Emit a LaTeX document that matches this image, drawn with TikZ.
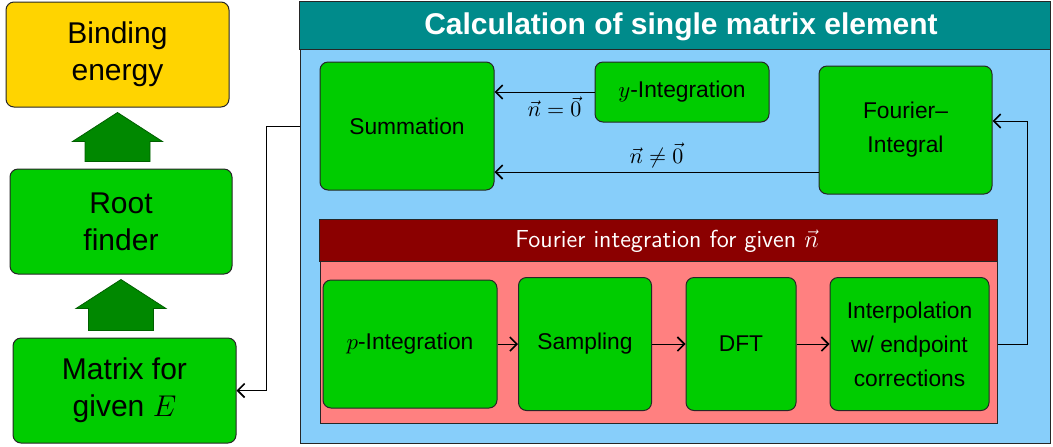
\RequirePackage{fix-cm}
\documentclass[tikz,border=0pt]{standalone}
\usepackage[no-math]{fontspec}
\setmainfont{Liberation Sans}
\usetikzlibrary{calc,arrows.meta}

\definecolor{boxgreen}{RGB}{0,204,0}
\definecolor{arrowgreen}{RGB}{0,136,0}
\definecolor{gold}{RGB}{255,212,0}
\definecolor{headteal}{RGB}{0,139,139}
\definecolor{skyblue}{RGB}{135,206,250}
\definecolor{headred}{RGB}{139,0,0}
\definecolor{salmonred}{RGB}{255,128,128}

% thick block arrow from the lower box #2 up to the box #1
\newcommand{\fatarrow}[2]{%
  \filldraw[fill=arrowgreen,draw=arrowgreen!70!black,line width=0.4pt]
    let \p1=(#1.south), \p2=(#2.north) in
    ({\x1},{\y1-2.5pt}) -- ({\x1+22.5pt},{\y1-17pt}) -- ({\x1+16.25pt},{\y1-17pt})
    -- ({\x1+16.25pt},{\y2+3.5pt}) -- ({\x1-16.25pt},{\y2+3.5pt})
    -- ({\x1-16.25pt},{\y1-17pt}) -- ({\x1-22.5pt},{\y1-17pt}) -- cycle;}

\begin{document}
\begin{tikzpicture}[x=0.5pt,y=-0.5pt,
  proc/.style={draw=black!85,line width=0.5pt,fill=boxgreen,rounded corners=4pt,
    align=center,inner sep=0pt,font=\fontsize{11.4}{17}\selectfont},
  bigproc/.style={proc,font=\fontsize{15}{18.5}\selectfont},
  frame/.style={draw=black!85,line width=0.5pt,inner sep=0pt},
  flow/.style={-{Straight Barb[length=3.5pt,width=7pt,line width=0.8pt]},line width=0.5pt},
  cond/.style={font=\fontsize{11}{13}\selectfont,inner sep=2pt}]

\useasboundingbox (0,0) rectangle (1053,446);

%left column
\node[bigproc,fill=gold,minimum width=111.5pt,minimum height=52.5pt] (bind) at (117.5,54.5) {Binding\\energy};
\node[bigproc,minimum width=111pt,minimum height=52.5pt] (root) at (121,221.5) {Root\\finder};
\node[bigproc,minimum width=111.5pt,minimum height=52.5pt] (matE) at (124.5,390.5) {Matrix for\\given $E$};
\fatarrow{bind}{root}
\fatarrow{root}{matE}

%single matrix element
\node[frame,fill=skyblue,minimum width=375pt,minimum height=220.5pt] (calcbox) at (675,222.5) {};
\draw[frame,fill=headteal] (calcbox.north west) rectangle ($(calcbox.north east)+(0,48)$);
\node[text=white,font=\fontsize{15}{17}\selectfont\bfseries] (calctitle) at (681,27) {Calculation of single matrix element};

\node[proc,minimum width=87pt,minimum height=64pt] (summ) at (407,126) {Summation};
\node[proc,minimum width=87pt,minimum height=30pt] (yint) at (682,92) {$y$-Integration};
\node[proc,minimum width=86.5pt,minimum height=64pt] (four) at (905.5,130) {Fourier--\\Integral};

%fourier integration
\node[frame,fill=salmonred,minimum width=338.5pt,minimum height=101.5pt] (fourbox) at (658.5,321.5) {};
\draw[frame,fill=headred] (fourbox.north west) rectangle ($(fourbox.north east)+(0,42)$);
\node[text=white,font=\sffamily\fontsize{12.3}{14}\selectfont] (fourtitle) at (667,241) {Fourier integration for given $\vec{n}$};

\node[proc,minimum width=87pt,minimum height=64pt] (pint) at (410,344) {$p$-Integration};
\node[proc,minimum width=66.5pt,minimum height=66.5pt] (samp) at (585,344) {Sampling};
\node[proc,minimum width=55pt,minimum height=66.5pt] (dft) at (741,344) {DFT};
\node[proc,minimum width=79.5pt,minimum height=66.5pt] (interp) at (909.5,344) {Interpolation\\w/ endpoint\\corrections};

%connectors
\draw[flow] (pint.east) -- (samp.west);
\draw[flow] (samp.east) -- (dft.west);
\draw[flow] (dft.east) -- (interp.west);
\draw[flow] (fourbox.east |- interp.east) -- ++(30,0) |- ([yshift=4.5pt]four.east);
\draw[flow] (yint.west) -- (yint.west -| summ.east) node[cond,pos=0.4,below] {$\vec{n}=\vec{0}$};
\draw[flow] ([yshift=-21pt]four.west) -- ([yshift=-21pt]four.west -| summ.east) node[cond,midway,above] {$\vec{n}\neq\vec{0}$};
\draw[flow] (calcbox.west |- summ.west) -- ++(-33,0) |- (matE.east);
\end{tikzpicture}
\end{document}
